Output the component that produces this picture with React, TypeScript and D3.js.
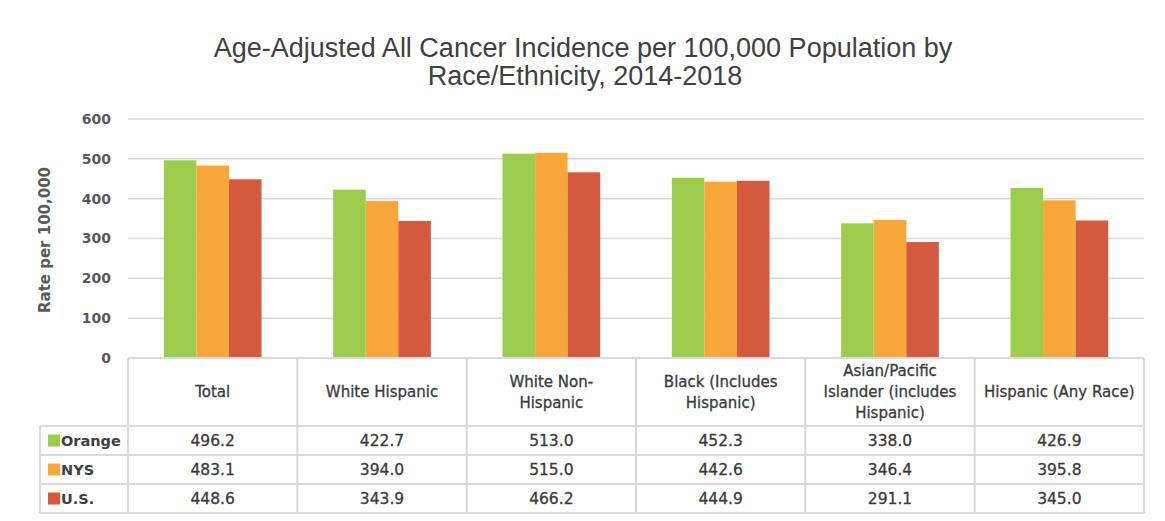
import React from 'react';
import * as d3 from 'd3';

const categories = ['Total', 'White Hispanic', 'White Non-Hispanic', 'Black (Includes Hispanic)', 'Asian/Pacific Islander (includes Hispanic)', 'Hispanic (Any Race)'];
const headerLines = [['Total'], ['White Hispanic'], ['White Non-', 'Hispanic'], ['Black (Includes', 'Hispanic)'], ['Asian/Pacific', 'Islander (includes', 'Hispanic)'], ['Hispanic (Any Race)']];
const seriesNames = ['Orange', 'NYS', 'U.S.'];
const orangeVals = [496.2, 422.7, 513.0, 452.3, 338.0, 426.9];
const nysVals = [483.1, 394.0, 515.0, 442.6, 346.4, 395.8];
const usVals = [448.6, 343.9, 466.2, 444.9, 291.1, 345.0];
const yTicks = [0, 100, 200, 300, 400, 500, 600];
const colors = ['#9bcc4b', '#f8a73a', '#d35a3f'];

const W = 1165, H = 521;
const left = 128, right = 1144, top = 119, bottom = 358;
const rowH = 29, headerBottom = 426, legendLeft = 40;
const txt = '#404040';

export default function App() {
  const values = [orangeVals, nysVals, usVals];
  const x = d3.scaleBand<string>().domain(categories).range([left, right]).padding(0);
  const xs = d3.scaleBand<string>().domain(seriesNames).range([0, x.bandwidth()]).paddingInner(0).paddingOuter(1.1);
  const y = d3.scaleLinear().domain([0, 600]).range([bottom, top]);
  const tableBottom = headerBottom + rowH * seriesNames.length;
  const grid = '#d9d9d9';

  return (
    <svg width={W} height={H} style={{ position: 'absolute', left: 0, top: 0, background: '#fff' }}>
      <text x={583} y={57} textAnchor="middle" fontFamily="Liberation Sans, Arial" fontSize={27} fill={txt}>Age-Adjusted All Cancer Incidence per 100,000 Population by</text>
      <text x={585} y={85} textAnchor="middle" fontFamily="Liberation Sans, Arial" fontSize={27} fill={txt}>Race/Ethnicity, 2014-2018</text>

      {yTicks.filter(t => t > 0).map(t => (
        <line key={t} x1={left} x2={right} y1={y(t)} y2={y(t)} stroke={grid} strokeWidth={1.5} />
      ))}
      {yTicks.map(t => (
        <text key={t} x={111} y={y(t)} dy="0.35em" textAnchor="end" fontFamily="DejaVu Sans" fontWeight="bold" fontSize={14} fill="#595959">{t}</text>
      ))}
      <text transform={`translate(50,240) rotate(-90)`} textAnchor="middle" fontFamily="DejaVu Sans" fontWeight="bold" fontSize={15} fill="#595959">Rate per 100,000</text>

      {categories.map((c, i) => (
        <g key={c} transform={`translate(${x(c)},0)`}>
          {seriesNames.map((s, j) => (
            <rect key={s} x={xs(s)} y={y(values[j][i])} width={xs.bandwidth()} height={y(0) - y(values[j][i])} fill={colors[j]} />
          ))}
        </g>
      ))}

      <g stroke={grid} strokeWidth={2} fill="none">
        <line x1={left} x2={right} y1={bottom} y2={bottom} />
        {seriesNames.map((s, j) => (
          <line key={s} x1={legendLeft} x2={right} y1={headerBottom + rowH * j} y2={headerBottom + rowH * j} />
        ))}
        <line x1={legendLeft} x2={right} y1={tableBottom} y2={tableBottom} />
        <line x1={legendLeft} x2={legendLeft} y1={headerBottom} y2={tableBottom} />
        {categories.map(c => (
          <line key={c} x1={x(c)} x2={x(c)} y1={bottom} y2={tableBottom} />
        ))}
        <line x1={right} x2={right} y1={bottom} y2={tableBottom} />
      </g>

      {categories.map((c, i) => {
        const cx = (x(c) as number) + x.bandwidth() / 2;
        const lines = headerLines[i];
        const cy = (bottom + headerBottom) / 2;
        const lh = 21;
        return (
          <g key={c}>
            {lines.map((l, k) => (
              <text key={k} x={cx} y={cy + (k - (lines.length - 1) / 2) * lh} dy="0.35em" textAnchor="middle" fontFamily="DejaVu Sans" fontSize={15} stroke="#3a3a3a" strokeWidth={0.3} fill="#3a3a3a">{l}</text>
            ))}
            {seriesNames.map((s, j) => (
              <text key={s} x={cx} y={headerBottom + rowH * j + rowH / 2} dy="0.35em" textAnchor="middle" fontFamily="DejaVu Sans" fontSize={15.5} stroke="#3a3a3a" strokeWidth={0.3} fill="#3a3a3a">{values[j][i].toFixed(1)}</text>
            ))}
          </g>
        );
      })}

      {seriesNames.map((s, j) => {
        const cy = headerBottom + rowH * j + rowH / 2;
        return (
          <g key={s}>
            <rect x={48} y={cy - 6} width={12} height={12} fill={colors[j]} />
            <text x={61} y={cy} dy="0.35em" fontFamily="DejaVu Sans" fontWeight="bold" fontSize={14.5} fill={txt}>{s}</text>
          </g>
        );
      })}
    </svg>
  );
}
